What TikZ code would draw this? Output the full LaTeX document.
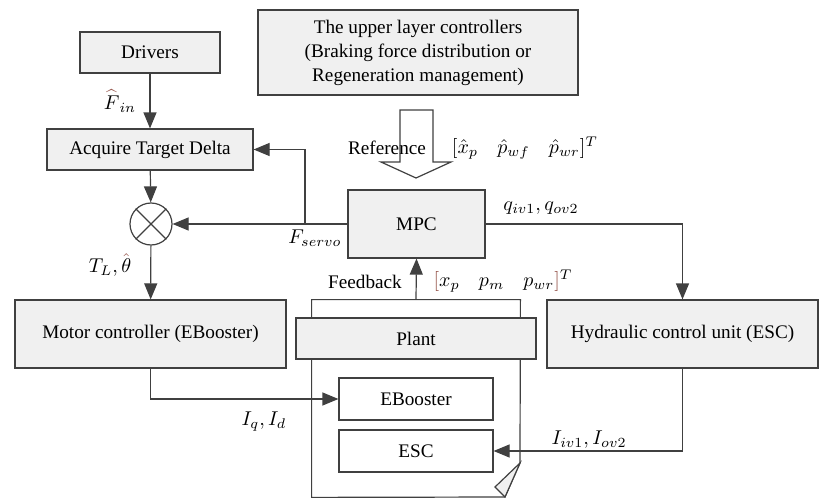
\documentclass[tikz,border=0pt]{standalone}
\usepackage{amsmath,amssymb}
\usepackage{xcolor}
\usepackage{fontspec}
\setmainfont{LiberationSerif}[Extension=.ttf,UprightFont=*-Regular,BoldFont=*-Bold,ItalicFont=*-Italic,BoldItalicFont=*-BoldItalic]
\usetikzlibrary{arrows.meta,positioning}

\definecolor{boxgray}{RGB}{240,240,240}
\definecolor{linegray}{RGB}{64,64,64}
\definecolor{brk}{RGB}{150,85,75}

\tikzset{
	blk/.style={draw=linegray,fill=boxgray,line width=0.6pt,inner sep=0pt,align=center},
	subblk/.style={blk,fill=white},
	wire/.style={draw=linegray,line width=0.6pt},
	arr/.style={wire,-{Triangle[length=8pt,width=6.5pt]}},
	lbl/.style={inner sep=0pt},
}

\begin{document}
\begin{tikzpicture}[x=0.5pt,y=-0.5pt,font=\fontsize{9.6pt}{12pt}\selectfont]
	\useasboundingbox (0,0) rectangle (820,498);

	% blocks
	\node[blk,minimum width=70pt,minimum height=20.5pt] (drv) at (150,52.5) {Drivers};
	\node[blk,minimum width=160pt,minimum height=42.5pt] (upc) at (418,52.5) {The upper layer controllers\\(Braking force distribution or\\Regeneration management)};
	\node[blk,minimum width=103pt,minimum height=20.5pt] (acq) at (150,149.5) {Acquire Target Delta};
	\node[draw=linegray,line width=0.6pt,circle,minimum size=21pt,inner sep=0pt] (sum) at (151,224) {};
	\draw[wire] (sum.north east) -- (sum.south west) ;
	\draw[wire] (sum.north west) -- (sum.south east) ;
	\node[blk,minimum width=68.5pt,minimum height=34pt] (mpc) at (416.5,224) {MPC};
	\node[blk,minimum width=135.5pt,minimum height=34pt] (mc) at (150.5,334) {Motor controller (EBooster)};
	\node[blk,minimum width=135.5pt,minimum height=34pt] (hcu) at (682.5,334) {Hydraulic control unit (ESC)};

	% plant document
	\node[minimum width=104pt,minimum height=98.5pt,inner sep=0pt] (pdoc) at (416,398.5) {};
	\draw[wire,fill=white] (pdoc.north west) -- (pdoc.north east) -- (520,463) -- (505,497) -- (pdoc.south west) -- cycle ;
	\draw[wire,fill=boxgray] (520,463) -- (495,487) -- (505,497) -- cycle ;
	\node[blk,minimum width=120pt,minimum height=20.5pt] (plt) at (416,338.5) {Plant};
	\node[subblk,minimum width=77pt,minimum height=21pt] (eb) at (416,399) {EBooster};
	\node[subblk,minimum width=77pt,minimum height=21pt] (esc) at (416,451) {ESC};

	% reference arrow
	\draw[wire,fill=white] (400,110) -- (433,110) -- (433,162) -- (451,162) -- (416,178) -- (381,162) -- (400,162) -- cycle ;
	\node[lbl] (rtxt) at (387,148) {Reference};
	\node[lbl] (rvec) at (525,148) {$[\hat{x}_p\quad \hat{p}_{wf}\quad \hat{p}_{wr}]^T$};

	% signals
	\coordinate (br) at (305,224) ;
	\draw[arr] (drv) -- (acq) ;
	\draw[arr] (acq) -- (sum) ;
	\draw[arr] (mpc.west) -- (sum.east) ;
	\draw[arr] (br) |- (acq.east) ;
	\draw[arr] (sum) -- (mc) ;
	\draw[arr] (mpc.east) -| (hcu.north) ;
	\draw[arr] (mc.south) |- (eb.west) ;
	\draw[arr] (hcu.south) |- (esc.east) ;
	\draw[arr] (pdoc.north) -- (mpc.south) ;

	% labels
	\node[lbl] (lfin) at (120,101) {${\color{brk}\widehat{\color{black}F}}_{in}$};
	\node[lbl] (ldel) at (121,195) {$\mathit{\Delta}$};
	\node[lbl] (lfsv) at (315,238) {$F_{servo}$};
	\node[lbl] (ltl) at (110,265) {$T_L,{\color{brk}\hat{\color{black}\theta}}$};
	\node[lbl] (liq) at (264,422) {$I_q,I_d$};
	\node[lbl] (lq) at (541,208) {$q_{iv1},q_{ov2}$};
	\node[lbl] (liv) at (589,440) {$I_{iv1},I_{ov2}$};
	\node[lbl] (lfb) at (365,282) {Feedback};
	\node[lbl] (fvec) at (503,281) {$\textcolor{brk}{[}x_p\quad p_m\quad p_{wr}\textcolor{brk}{]}^T$};
\end{tikzpicture}
\end{document}
